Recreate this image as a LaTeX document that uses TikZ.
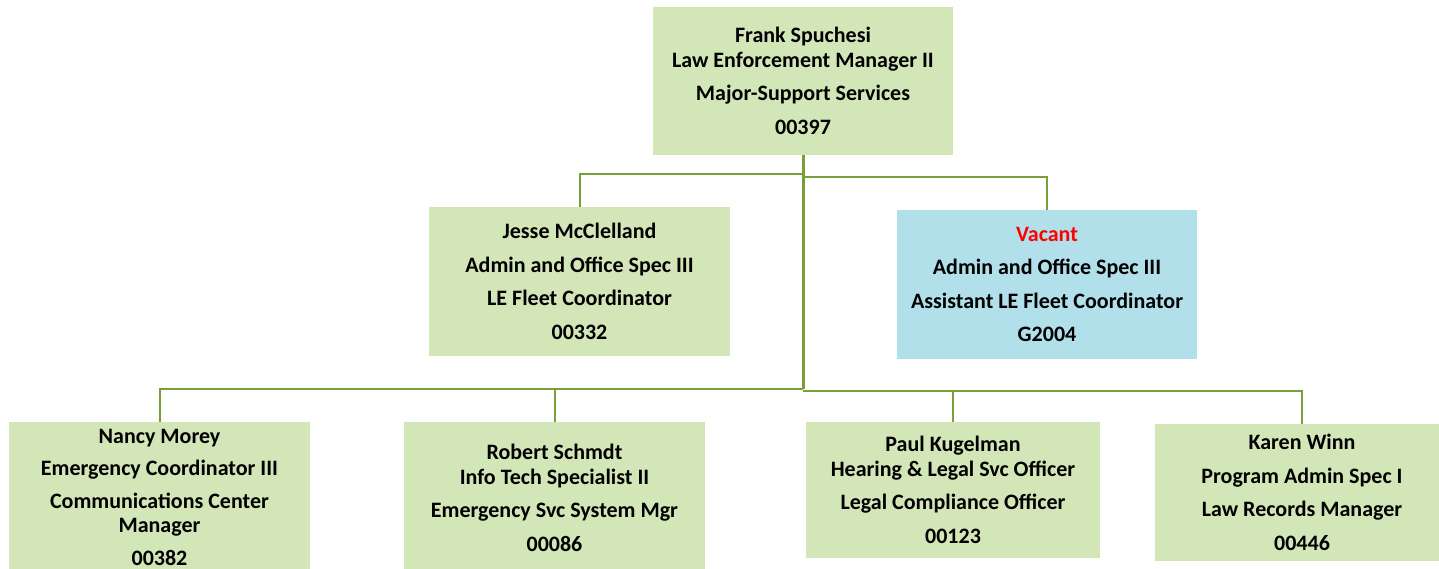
\documentclass[tikz,border=0pt]{standalone}
\usepackage{fontspec}
\setmainfont{Carlito}
\usetikzlibrary{positioning,calc}
\definecolor{leaf}{HTML}{D3E6B8}
\definecolor{sky}{HTML}{B1DFEA}
\definecolor{stem}{HTML}{77A03A}
\tikzset{
  box/.style={fill=leaf,inner sep=0pt,minimum width=301pt,minimum height=149pt,
    align=center,font=\fontsize{22}{24.5}\selectfont\bfseries},
  wire/.style={draw=stem,line width=2pt},
  trunk/.style={draw=stem,line width=3pt}
}
\newcommand*{\vac}[1]{\textcolor{red}{#1}}

\begin{document}
\begin{tikzpicture}[x=1pt,y=-1pt]
\useasboundingbox (0,0) rectangle (1439,569);
\node[box,minimum width=300pt,minimum height=148pt] (F) at (803,81)
  {Frank Spuchesi\\Law Enforcement Manager II\\[9pt]Major-Support Services\\[9pt]00397};
\node[box] (J) at (579.5,281.5)
  {Jesse McClelland\\[9pt]Admin and Office Spec III\\[9pt]LE Fleet Coordinator\\[9pt]00332};
\node[box,fill=sky,minimum width=300pt] (V) at (1047,284.5)
  {\vac{Vacant}\\[9pt]Admin and Office Spec III\\[9pt]Assistant LE Fleet Coordinator\\[9pt]G2004};
\node[box,minimum height=150pt] (N) at (159.5,497)
  {Nancy Morey\\[8pt]Emergency Coordinator III\\[8pt]Communications Center\\Manager\\[8pt]00382};
\node[box,minimum height=152pt] (R) at (554.5,498)
  {Robert Schmdt\\Info Tech Specialist II\\[9pt]Emergency Svc System Mgr\\[9pt]00086};
\node[box,minimum width=294pt,minimum height=136pt] (P) at (953,490)
  {Paul Kugelman\\Hearing \& Legal Svc Officer\\[9pt]Legal Compliance Officer\\[9pt]00123};
\node[box,minimum width=294pt,minimum height=137pt] (K) at (1302,492.5)
  {Karen Winn\\[9pt]Program Admin Spec I\\[9pt]Law Records Manager\\[9pt]00446};
\draw[trunk] (F.south) -- ++(0,234) coordinate (M);
\draw[wire] (F.south) ++(0,19) -| (J.north);
\draw[wire] (F.south) ++(0,22) -| (V.north);
\draw[wire] (M) -| (N.north);
\draw[wire] (M) -| (R.north);
\draw[wire] ($(M)+(0,2)$) -| (P.north);
\draw[wire] ($(M)+(0,2)$) -| (K.north);
\end{tikzpicture}
\end{document}
